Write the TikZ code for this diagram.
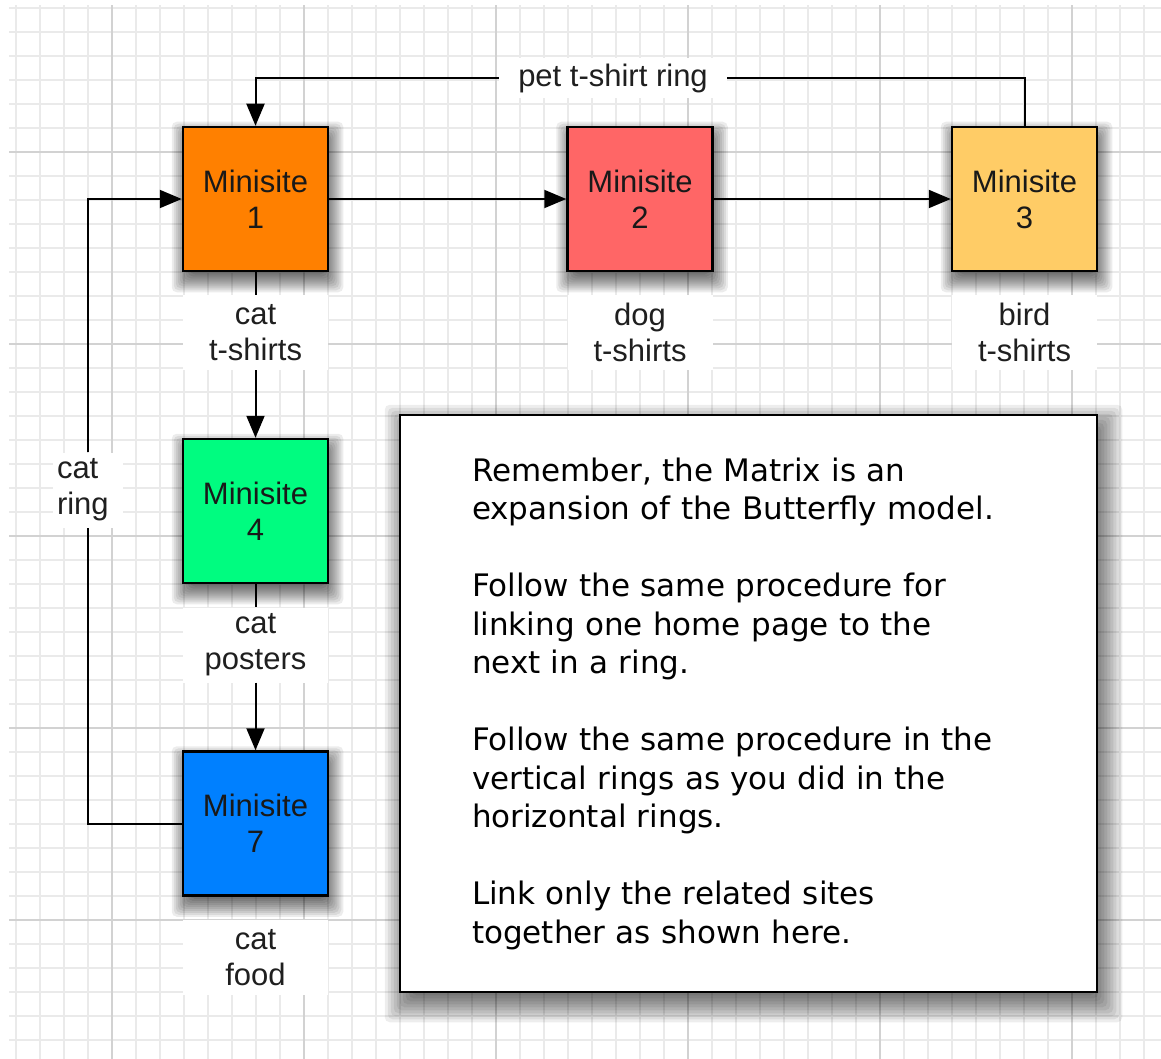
\documentclass[tikz,border=0pt]{standalone}
\usepackage{fontspec}
\setmainfont{Liberation Sans}
\newfontfamily\verdfont{DejaVu Sans}
\usetikzlibrary{arrows.meta,calc}
\pgfdeclarelayer{gridlayer}
\pgfdeclarelayer{shadowlayer}
\pgfsetlayers{gridlayer,shadowlayer,main}
\definecolor{gridminor}{RGB}{234,234,234}
\definecolor{gridmajor}{RGB}{210,210,210}
\definecolor{siteA}{RGB}{255,128,0}
\definecolor{siteB}{RGB}{255,102,102}
\definecolor{siteC}{RGB}{255,204,102}
\definecolor{siteD}{RGB}{0,252,128}
\definecolor{siteE}{RGB}{0,128,255}
% soft shadow: node, dx, dy, list of inflations, opacity per layer
\newcommand\softshadow[5]{%
  \foreach \e in {#4} {%
    \fill[black, fill opacity=#5, rounded corners=5pt]
      ($(#1.south west)+({#2-(\e)},{#3+(\e)})$) rectangle ($(#1.north east)+({#2+(\e)},{#3-(\e)})$);
  }%
}
\begin{document}
\begin{tikzpicture}[x=1pt,y=-1pt,
  site/.style={draw=black, line width=2.5pt, minimum width=145pt, minimum height=144pt,
    inner sep=0pt, align=center, font=\fontsize{31}{36}\selectfont, text=black!90},
  tag/.style={fill=white, inner sep=0pt, minimum width=145pt, minimum height=75pt,
    align=center, font=\fontsize{31}{36}\selectfont, text=black!88},
  link/.style={line width=2pt, draw=black},
  arrowlink/.style={link, -{Triangle[length=22pt,width=18pt]}},
  notebox/.style={draw=black, fill=white, line width=2.5pt, minimum width=697pt, minimum height=577pt,
    inner xsep=0pt, inner ysep=0pt, text width=553pt, align=left,
    font=\verdfont\fontsize{31}{38.5}\selectfont}
]
\useasboundingbox (0,0) rectangle (1161,1059);
\begin{pgfonlayer}{gridlayer}
\fill[white] (0,0) rectangle (1161,1059);
\begin{scope}
  \clip (9,6) rectangle (1161,1059);
  \foreach \x in {16,40,...,1160} \draw[gridminor, line width=1.6pt] (\x,0) -- (\x,1059);
  \foreach \y in {8,32,...,1058} \draw[gridminor, line width=1.6pt] (0,\y) -- (1161,\y);
  \foreach \x in {112,304,...,1160} \draw[gridmajor, line width=1.6pt] (\x,0) -- (\x,1059);
  \foreach \y in {152,344,...,1058} \draw[gridmajor, line width=1.6pt] (0,\y) -- (1161,\y);
\end{scope}
\end{pgfonlayer}

% minisites
\node[site, fill=siteA] (m1) at (255.5,199) {Minisite\\1};
\node[site, fill=siteB] (m2) at (640,199) {Minisite\\2};
\node[site, fill=siteC] (m3) at (1024.5,199) {Minisite\\3};
\node[site, fill=siteD] (m4) at (255.5,511) {Minisite\\4};
\node[site, fill=siteE] (m7) at (255.5,823.5) {Minisite\\7};

% labels
\node[tag] (l1) at (255.5,332.5) {cat\\t-shirts};
\node[tag] (l2) at (640,332.5) {dog\\t-shirts};
\node[tag] (l3) at (1024.5,332.5) {bird\\t-shirts};
\node[tag] (l4) at (255.5,645) {cat\\posters};
\node[tag] (l7) at (255.5,957.5) {cat\\food};
\node[tag, minimum width=228pt, minimum height=40pt] (lpet) at (613,78) {pet t-shirt ring};
\node[tag, minimum width=70pt, text width=62pt, align=left, inner xsep=4pt] (lcat) at (88,490) {cat\\ring};

% note
\node[notebox] (note) at (748.5,703.5) {Remember, the Matrix is an\\
expansion of the Butterfly model.\\[38.5pt]
Follow the same procedure for\\
linking one home page to the\\
next in a ring.\\[38.5pt]
Follow the same procedure in the\\
vertical rings as you did in the\\
horizontal rings.\\[38.5pt]
Link only the related sites\\
together as shown here.};

% shadows
\begin{pgfonlayer}{shadowlayer}
  \foreach \n in {m1,m2,m3,m4,m7} {\softshadow{\n}{2}{8}{-6,-4,...,12}{0.075}}
  \softshadow{note}{5}{10}{-8,-5,...,19}{0.07}
\end{pgfonlayer}

% connectors
\draw[arrowlink] (m1.east) -- (m2.west);
\draw[arrowlink] (m2.east) -- (m3.west);
\draw[link] (m3.north) |- (lpet.east);
\draw[arrowlink] (lpet.west) -| (m1.north);
\draw[link] (m1.south) -- (l1.north);
\draw[arrowlink] (l1.south) -- (m4.north);
\draw[link] (m4.south) -- (l4.north);
\draw[arrowlink] (l4.south) -- (m7.north);
\draw[link] (m7.west) -| (lcat.south);
\draw[arrowlink] (lcat.north) |- (m1.west);
\end{tikzpicture}
\end{document}
